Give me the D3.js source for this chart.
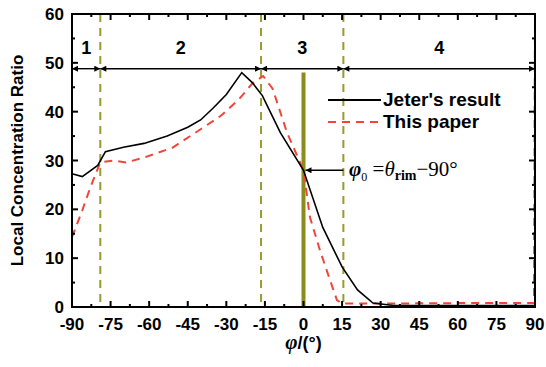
<!DOCTYPE html>
<html>
<head>
<meta charset="utf-8">
<script src="https://d3js.org/d3.v7.min.js"></script>
<style>
  body { margin: 0; background: #fff; }
  text { font-family: "Liberation Sans", Arial, sans-serif; font-weight: bold; }
  text.serif, text.serif tspan { font-family: "Liberation Serif", "Times New Roman", serif; font-weight: normal; }
</style>
</head>
<body>
<script>
// values
var phiJeter = [-90, -86, -80, -77, -70, -62, -53, -45, -40, -35, -30, -24, -20, -16, -9, 0, 7.5, 15, 21, 27, 35, 50, 70, 90];
var jeter    = [27.3, 26.7, 29, 31.8, 32.7, 33.5, 35, 36.8, 38.3, 40.8, 43.5, 48, 46, 43.3, 35.7, 28, 16.3, 8.2, 3.5, 0.8, 0.3, 0.3, 0.3, 0.3];
var phiPaper = [-90, -86, -83, -79, -74, -69, -62, -51, -40, -32, -25, -20, -15.7, -12, -6.4, 0, 2.5, 6.4, 10.3, 13, 15, 30, 60, 89.6, 90];
var paper    = [14.3, 19.8, 24.3, 29.6, 30, 29.6, 30.6, 32.6, 36.4, 39.2, 42.6, 45.7, 47.3, 44.7, 35.7, 28, 18.4, 11.6, 5.5, 1.4, 0.7, 0.7, 0.8, 0.8, 60];
var xTicks = [-90, -75, -60, -45, -30, -15, 0, 15, 30, 45, 60, 75, 90];
var yTicks = [0, 10, 20, 30, 40, 50, 60];
var bounds = [-90, -79, -16.5, 15.5, 90];      // region boundaries
var regionNames = ["1", "2", "3", "4"];
var regionLevel = 48.8;
var phi0 = 0;

var W = 546, H = 367;
var L = 72, R = 535, T = 14, B = 307;

var svg = d3.select("body").append("svg").attr("width", W).attr("height", H);
var x = d3.scaleLinear().domain([-90, 90]).range([L, R]);
var y = d3.scaleLinear().domain([0, 60]).range([B, T]);

var olive = "#8c8c1c";
var red = "#f0453a";

// dashed region lines
svg.selectAll(".bnd").data(bounds.slice(1, 4)).enter().append("line")
  .attr("x1", d => x(d)).attr("x2", d => x(d))
  .attr("y1", y(60)).attr("y2", y(0))
  .attr("stroke", "#9a9a30").attr("stroke-width", 2)
  .attr("stroke-dasharray", "8,6");

// solid phi0 line
svg.append("line")
  .attr("x1", x(phi0)).attr("x2", x(phi0))
  .attr("y1", y(48)).attr("y2", y(0))
  .attr("stroke", olive).attr("stroke-width", 4);

// curves
var line = d3.line().x(d => x(d[0])).y(d => y(d[1]));
svg.append("path").datum(d3.zip(phiPaper, paper))
  .attr("d", line).attr("fill", "none")
  .attr("stroke", red).attr("stroke-width", 2)
  .attr("stroke-dasharray", "8,6");
svg.append("path").datum(d3.zip(phiJeter, jeter))
  .attr("d", line).attr("fill", "none")
  .attr("stroke", "#000").attr("stroke-width", 1.6);

// arrow head
var defs = svg.append("defs");
defs.append("marker").attr("id", "ah").attr("viewBox", "0 0 10 10")
  .attr("refX", 10).attr("refY", 5).attr("markerWidth", 7).attr("markerHeight", 6)
  .attr("orient", "auto-start-reverse").attr("markerUnits", "userSpaceOnUse")
  .append("path").attr("d", "M0,0L10,5L0,10z").attr("fill", "#000");

// region arrows + labels
for (var i = 0; i < 4; i++) {
  svg.append("line")
    .attr("x1", x(bounds[i])).attr("x2", x(bounds[i + 1]))
    .attr("y1", y(regionLevel)).attr("y2", y(regionLevel))
    .attr("stroke", "#000").attr("stroke-width", 1.4)
    .attr("marker-start", "url(#ah)").attr("marker-end", "url(#ah)");
  svg.append("text")
    .attr("x", x((bounds[i] + bounds[i + 1]) / 2))
    .attr("y", 54).attr("text-anchor", "middle")
    .attr("font-size", 18).text(regionNames[i]);
}

// axes (box with inward ticks)
var ax = svg.append("g");
ax.append("rect").attr("x", L).attr("y", T).attr("width", R - L).attr("height", B - T)
  .attr("fill", "none").attr("stroke", "#000").attr("stroke-width", 2);

var xMinor = d3.range(-90, 90.1, 7.5);
var yMinor = d3.range(0, 60.1, 5);
xMinor.forEach(function (v) {
  var len = (v % 15 === 0) ? 6 : 3;
  ax.append("line").attr("x1", x(v)).attr("x2", x(v)).attr("y1", B).attr("y2", B - len).attr("stroke", "#000").attr("stroke-width", 2);
  ax.append("line").attr("x1", x(v)).attr("x2", x(v)).attr("y1", T).attr("y2", T + len).attr("stroke", "#000").attr("stroke-width", 2);
});
yMinor.forEach(function (v) {
  var len = (v % 10 === 0) ? 6 : 3;
  ax.append("line").attr("x1", L).attr("x2", L + len).attr("y1", y(v)).attr("y2", y(v)).attr("stroke", "#000").attr("stroke-width", 2);
  ax.append("line").attr("x1", R).attr("x2", R - len).attr("y1", y(v)).attr("y2", y(v)).attr("stroke", "#000").attr("stroke-width", 2);
});

ax.selectAll(".xl").data(xTicks).enter().append("text")
  .attr("x", d => x(d)).attr("y", 330).attr("text-anchor", "middle")
  .attr("font-size", 17).text(d => d);
ax.selectAll(".yl").data(yTicks).enter().append("text")
  .attr("x", 64).attr("y", d => y(d) + 6).attr("text-anchor", "end")
  .attr("font-size", 17).text(d => d);

// axis titles
svg.append("text").attr("transform", "translate(23," + ((T + B) / 2) + ") rotate(-90)")
  .attr("text-anchor", "middle").attr("font-size", 17).text("Local Concentration Ratio");
var xt = svg.append("text").attr("x", x(0)).attr("y", 349).attr("text-anchor", "middle").attr("font-size", 18);
xt.append("tspan").attr("font-style", "italic").style("font-family", "'Liberation Serif', serif").attr("font-size", 21).text("φ");
xt.append("tspan").text("/(°)");

// legend
svg.append("line").attr("x1", 328).attr("x2", 381).attr("y1", 100).attr("y2", 100)
  .attr("stroke", "#000").attr("stroke-width", 2);
svg.append("line").attr("x1", 328).attr("x2", 381).attr("y1", 122).attr("y2", 122)
  .attr("stroke", red).attr("stroke-width", 2).attr("stroke-dasharray", "8,6");
svg.append("text").attr("x", 383).attr("y", 106).attr("font-size", 19).text("Jeter's result");
svg.append("text").attr("x", 383).attr("y", 128).attr("font-size", 19).text("This paper");

// phi0 annotation
svg.append("line").attr("x1", x(bounds[3])).attr("x2", x(phi0) + 2)
  .attr("y1", y(28)).attr("y2", y(28))
  .attr("stroke", "#000").attr("stroke-width", 1.6).attr("marker-end", "url(#ah)");
var an = svg.append("text").attr("class", "serif").attr("x", 349).attr("y", y(28) + 6).attr("font-size", 21);
an.append("tspan").attr("font-style", "italic").style("font-weight", "bold").text("φ");
an.append("tspan").attr("font-size", 12).attr("dy", 5).text("0");
an.append("tspan").attr("dy", -5).text(" =");
an.append("tspan").attr("font-style", "italic").text("θ");
an.append("tspan").attr("font-size", 14).style("font-weight", "bold").attr("dy", 4).text("rim");
an.append("tspan").attr("dy", -4).text("−90°");
</script>
</body>
</html>
